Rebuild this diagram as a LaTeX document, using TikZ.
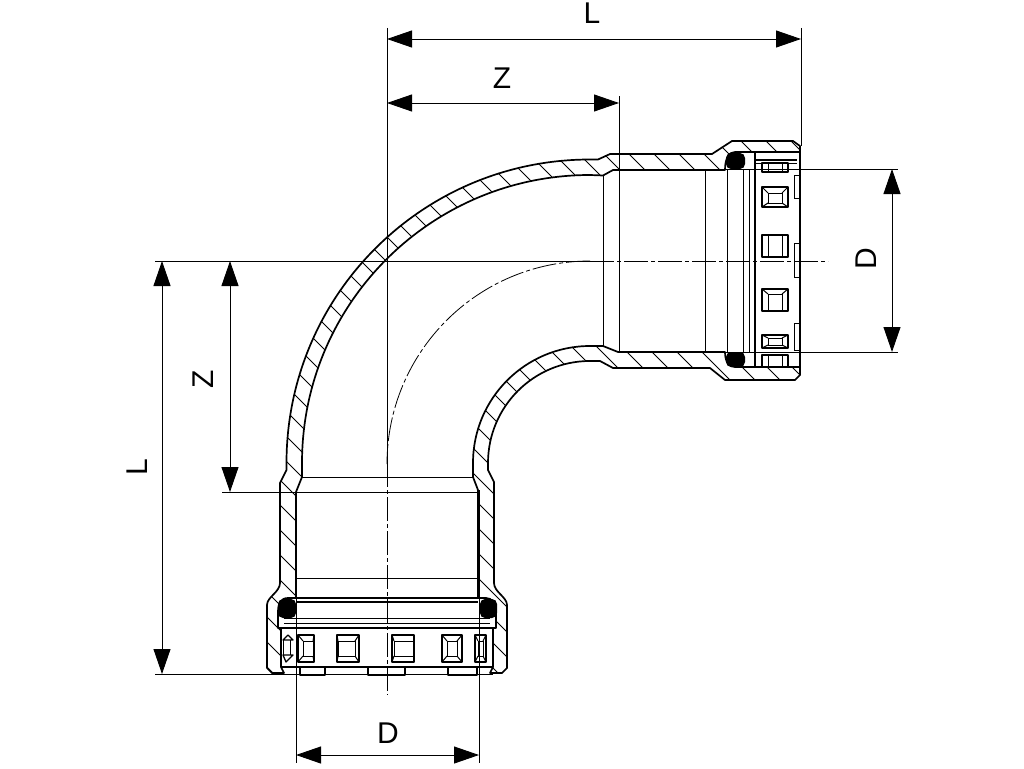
\documentclass[tikz,border=0pt]{standalone}
\usepackage{fontspec}
\setmainfont{Liberation Sans}
\usetikzlibrary{
  positioning,
  calc,
  arrows.meta
}
\tikzset{
  wall/.style={line width=1.7pt,line join=round},
  part/.style={line width=1.7pt,line join=round},
  window/.style={line width=1.3pt,line join=round},
  fine/.style={line width=1pt},
  hatchline/.style={line width=.8pt},
  extline/.style={line width=.9pt},
  centerline/.style={line width=.8pt,dash pattern=on 24pt off 3pt on 4pt off 3pt},
  dimline/.style={line width=.9pt,{Triangle[length=25pt,width=17pt]}-{Triangle[length=25pt,width=17pt]}},
  dimlabel/.style={font=\fontsize{30}{30}\selectfont,inner sep=0pt}
}
% pipe walls, screen coordinates
\def\outerwall{(272,673)--(267,668)--(267,605) .. controls (267,597) and (280,592) .. (280,583)--(280,483)--(286.5,470)--(286.5,463)
  arc[start angle=180,end angle=270,radius=303.5]--(598,159.5)--(610,154)--(712,154)--(732,141)--(793,141)--(800,146)--(800,152)--(735,152)
  .. controls (729,152) and (725,158) .. (725,170)--(613,170)--(603,175.5)--(590,175)
  arc[start angle=270,end angle=180,radius=288]--(302,477)--(296,492)--(296,598)--(288,598)
  .. controls (281,598) and (278,603) .. (278,612)--(278,628)--(281,628)--(281,667)--(284,673)--cycle}
\def\innerwall{(502,673)--(507,668)--(507,605) .. controls (507,597) and (494,592) .. (494,583)--(494,482)--(488,470)--(488,463)
  arc[start angle=180,end angle=270,radius=102]--(600,361)--(613,368)--(710,368)--(725,380)--(795,380)--(800,375)--(800,367)--(735,367)
  .. controls (729,367) and (725,362) .. (725,352)--(618,352)--(603,346)--(590,346)
  arc[start angle=270,end angle=180,radius=117]--(473,477)--(478,490)--(478,598)--(486,598)
  .. controls (492,598) and (496,603) .. (496,612)--(496,628)--(493,628)--(493,667)--(490,673)--cycle}

\begin{document}
\begin{tikzpicture}[x=1pt,y=-1pt]
  \useasboundingbox (0,0) rectangle (1024,768);

  % hatching
  \begin{scope}
    \clip \outerwall \innerwall;
    \foreach \c in {-650,-625,...,400}
      \draw[hatchline] (150,{150+\c}) -- (900,{900+\c});
  \end{scope}
  \draw[wall] \outerwall;
  \draw[wall] \innerwall;

  % seals
  \fill[rounded corners=5pt] (726,153) rectangle (745,169);
  \fill[rounded corners=5pt] (726,352) rectangle (745,367);
  \fill[rounded corners=5pt] (278,599) rectangle (296,618);
  \fill[rounded corners=5pt] (480,599) rectangle (497,618);

  % right end
  \draw[fine] (603,175.5)--(603,346);
  \draw[fine] (705,170)--(705,352);
  \draw[part] (727.5,170)--(727.5,352);
  \draw[fine] (743,170)--(743,352);
  \draw[fine] (749,170)--(749,352);
  \draw[part] (755,152)--(755,367);
  \draw[part] (755,160)--(797,160);
  \draw[fine] (755,163)--(797,163);
  \draw[part] (800,146)--(800,375);
  \foreach \ya/\yb in {175/198,243/277,323/350}{
    \draw[fine] (800,\ya)--(794,\ya)--(794,\yb)--(800,\yb);
  }
  \foreach \ya/\yb/\ia/\ib in {163/172/0/0,187/207/6/4,235/257/0/0,289/311/5/0,335/348/3/3,355/367/0/0}{
    \draw[window] (762,\ya)--(788,\ya)--(788,\yb)--(762,\yb)--cycle;
    \draw[fine] (768,\ya+\ia) rectangle (782,\yb-\ib);
    \draw[fine] (762,\ya)--(768,\ya+\ia) (788,\ya)--(782,\ya+\ia);
    \draw[fine] (762,\yb)--(768,\yb-\ib) (788,\yb)--(782,\yb-\ib);
  }

  % bottom end
  \draw[fine] (302,477)--(473,477);
  \draw[fine] (296,578)--(478,578);
  \draw[part] (296,598)--(478,598);
  \draw[part] (296,602)--(478,602);
  \draw[fine] (284,618)--(490,618);
  \draw[fine] (284,623)--(490,623);
  \draw[part] (281,628)--(493,628);
  \draw[part] (281,667)--(493,667);
  \foreach \xa/\xb in {300/325,368/405,448/477}
    \draw[part] (\xa,667)--(\xa,675)--(\xb,675)--(\xb,667);
  \foreach \xa/\xb/\ia/\ib in {298/314/5/1,337/359/1/4,392/414/2/0,442/462/5/5,475/486/3/3}{
    \draw[window] (\xa,635)--(\xb,635)--(\xb,662)--(\xa,662)--cycle;
    \draw[fine] (\xa+\ia,641) rectangle (\xb-\ib,656);
    \draw[fine] (\xa,635)--(\xa+\ia,641) (\xb,635)--(\xb-\ib,641);
    \draw[fine] (\xa,662)--(\xa+\ia,656) (\xb,662)--(\xb-\ib,656);
  }
  \draw[window] (283,640)--(288,635)--(293,640)--cycle;
  \draw[window] (283,655)--(293,655)--(286,662)--cycle;
  \draw[fine] (283,640)--(283,655);
  \draw[fine] (290,640)--(290,655);

  % center lines
  \draw[centerline] (387,463)--(387,695);
  \draw[centerline] (590,261)--(828,261);
  \draw[centerline] (590,261) arc[start angle=270,end angle=180,radius=203];

  % reference points
  \coordinate (Ltop1) at (387,39);
  \coordinate (Ltop2) at (801,39);
  \coordinate (Ztop1) at (387,103);
  \coordinate (Ztop2) at (619,103);
  \coordinate (Lleft1) at (162,261);
  \coordinate (Lleft2) at (162,674);
  \coordinate (Zleft1) at (230,261);
  \coordinate (Zleft2) at (230,492);
  \coordinate (Dright1) at (892,169);
  \coordinate (Dright2) at (892,352);
  \coordinate (Dbot1) at (296,755);
  \coordinate (Dbot2) at (479,755);

  % extension lines
  \draw[extline] (387,28)--(387,463);
  \draw[extline] (801,28)--(801,146);
  \draw[extline] (619,96)--(619,352);
  \draw[extline] (155,261)--(590,261);
  \draw[extline] (155,674)--(493,674);
  \draw[extline] (222,492)--(478,492);
  \draw[extline] (725,169)--(898,169);
  \draw[extline] (725,352)--(898,352);
  \draw[extline] (296,492)--(296,763);
  \draw[extline] (479,490)--(479,763);

  % dimensions
  \draw[dimline] (Ltop1)--(Ltop2);
  \draw[dimline] (Ztop1)--(Ztop2);
  \draw[dimline] (Lleft1)--(Lleft2);
  \draw[dimline] (Zleft1)--(Zleft2);
  \draw[dimline] (Dright1)--(Dright2);
  \draw[dimline] (Dbot1)--(Dbot2);

  \node[dimlabel] (labelLtop) at (592,13) {L};
  \node[dimlabel] (labelZtop) at (502,78) {Z};
  \node[dimlabel,rotate=90] (labelLleft) at (137,467) {L};
  \node[dimlabel,rotate=90] (labelZleft) at (203,379) {Z};
  \node[dimlabel,rotate=90] (labelDright) at (866,259) {D};
  \node[dimlabel] (labelDbot) at (388,733) {D};
\end{tikzpicture}
\end{document}
